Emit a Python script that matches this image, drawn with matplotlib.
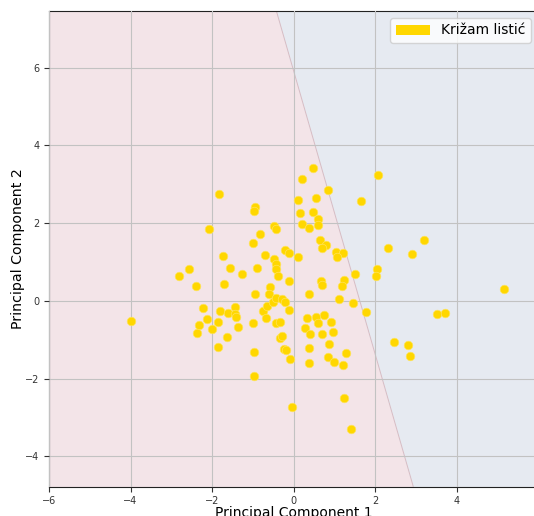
import numpy as np
import matplotlib
matplotlib.use("Agg")
import matplotlib.pyplot as plt
from matplotlib.patches import Patch

# Principal components of the "Križam listić" samples
pc1 = [-4.00, -2.82, -2.57, -2.40, -1.72, -1.55, -1.26, -1.71, -0.90, -0.70,
       -0.94, -2.23, -1.80, -1.60, -1.43, -1.43, -1.42, -2.13, -2.33, -2.36,
       -1.86, -1.99, -1.37, -1.62, -1.86, -1.00, -0.98, -0.96, -0.74, -0.68,
       -0.65, -0.58, -0.60, -0.50, -0.42, -0.28, -0.22, -0.44, -0.34, -0.32,
       -0.28, -0.24, -0.18, -0.08, -0.03, -0.10, -0.10, -1.84, -0.94, -0.96,
       -2.07, -0.47, -0.42, -0.81, -1.00, -0.48, -0.43, -0.42, -0.39, -0.20,
       -0.12, 0.12, 0.47, 0.20, 2.07, 0.85, 0.10, 0.54, 1.66, 0.16,
       0.47, 0.61, 0.22, 0.39, 0.59, 0.66, 0.79, 0.71, 1.04, 1.21,
       1.07, 2.31, 3.21, 2.90, 5.16, 3.53, 3.73, 2.46, 2.80, 2.85,
       2.04, 2.03, 1.52, 1.23, 1.19, 0.67, 0.70, 0.38, 1.12, 1.45,
       1.79, 0.34, 0.56, 0.60, 0.74, 0.91, 0.27, 0.40, 0.70, 0.97,
       0.87, 0.38, 1.28, 0.39, 0.85, 1.00, 1.21, 1.23, 1.40]
pc2 = [-0.51, 0.64, 0.82, 0.39, 1.16, 0.85, 0.69, 0.44, 0.85, 1.18,
       0.17, -0.17, -0.26, -0.30, -0.15, -0.34, -0.42, -0.46, -0.62, -0.82,
       -0.53, -0.73, -0.66, -0.94, -1.18, -0.57, -1.31, -1.92, -0.26, -0.44,
       -0.13, 0.37, 0.17, -0.04, 0.07, 0.05, -0.03, -0.57, -0.55, -0.96,
       -0.90, -1.24, -1.27, -1.49, -2.73, 0.51, -0.23, 2.75, 2.41, 2.32,
       1.85, 1.93, 1.85, 1.72, 1.48, 1.07, 0.95, 0.82, 0.64, 1.31,
       1.24, 1.12, 3.43, 3.14, 3.25, 2.85, 2.60, 2.64, 2.57, 2.26,
       2.28, 2.12, 1.97, 1.88, 1.95, 1.57, 1.45, 1.36, 1.27, 1.23,
       1.12, 1.36, 1.56, 1.20, 0.31, -0.33, -0.30, -1.05, -1.13, -1.41,
       0.82, 0.64, 0.69, 0.54, 0.39, 0.51, 0.41, 0.19, 0.04, -0.06,
       -0.28, -0.43, -0.41, -0.57, -0.36, -0.53, -0.70, -0.84, -0.86, -0.80,
       -1.11, -1.20, -1.33, -1.59, -1.45, -1.58, -1.66, -2.51, -3.29]
label = "Križam listić"
x_ticks = [-6, -4, -2, 0, 2, 4]
y_ticks = [-4, -2, 0, 2, 4, 6]

# linear decision function: w1*x + w2*y + b
w1, w2, b0 = 1.0, 0.2745, -1.628
x_range = (-6, 6)
y_range = (-4.78, 7.46)

fig = plt.figure(figsize=(5.34, 5.16), dpi=100)
ax = fig.add_axes([49/534, 29.3/516, 489/534, 475.7/516])

xx, yy = np.meshgrid(np.linspace(*x_range, 600), np.linspace(*y_range, 600))
zz = w1 * xx + w2 * yy + b0
ax.contourf(xx, yy, zz, levels=[-100, 0, 100], colors=["#F3E4E8", "#E6EAF1"], zorder=0)
ax.contour(xx, yy, zz, levels=[0], colors=["#D8BCC3"], linewidths=0.7, zorder=1)

ax.grid(True, color="#c2c2c2", linewidth=0.8, zorder=2)
ax.set_axisbelow(False)
ax.scatter(pc1, pc2, s=38, color="#FFD700", edgecolors="#FFE35A", linewidths=0.5, zorder=3)

ax.set_xlim(*x_range)
ax.set_ylim(*y_range)
ax.set_xticks(x_ticks)
ax.set_yticks(y_ticks)
ax.tick_params(labelsize=7, colors="#333333", length=3.5)
for sp in ax.spines.values():
    sp.set_color("#222222")
ax.set_xlabel("Principal Component 1", fontsize=10, labelpad=0)
ax.set_ylabel("Principal Component 2", fontsize=10.2, labelpad=0)

ax.legend(handles=[Patch(facecolor="#FFD700", label=label)], loc="upper right", fontsize=10,
          handlelength=2.45, framealpha=0.8)

fig.savefig("out.png", dpi=100)
